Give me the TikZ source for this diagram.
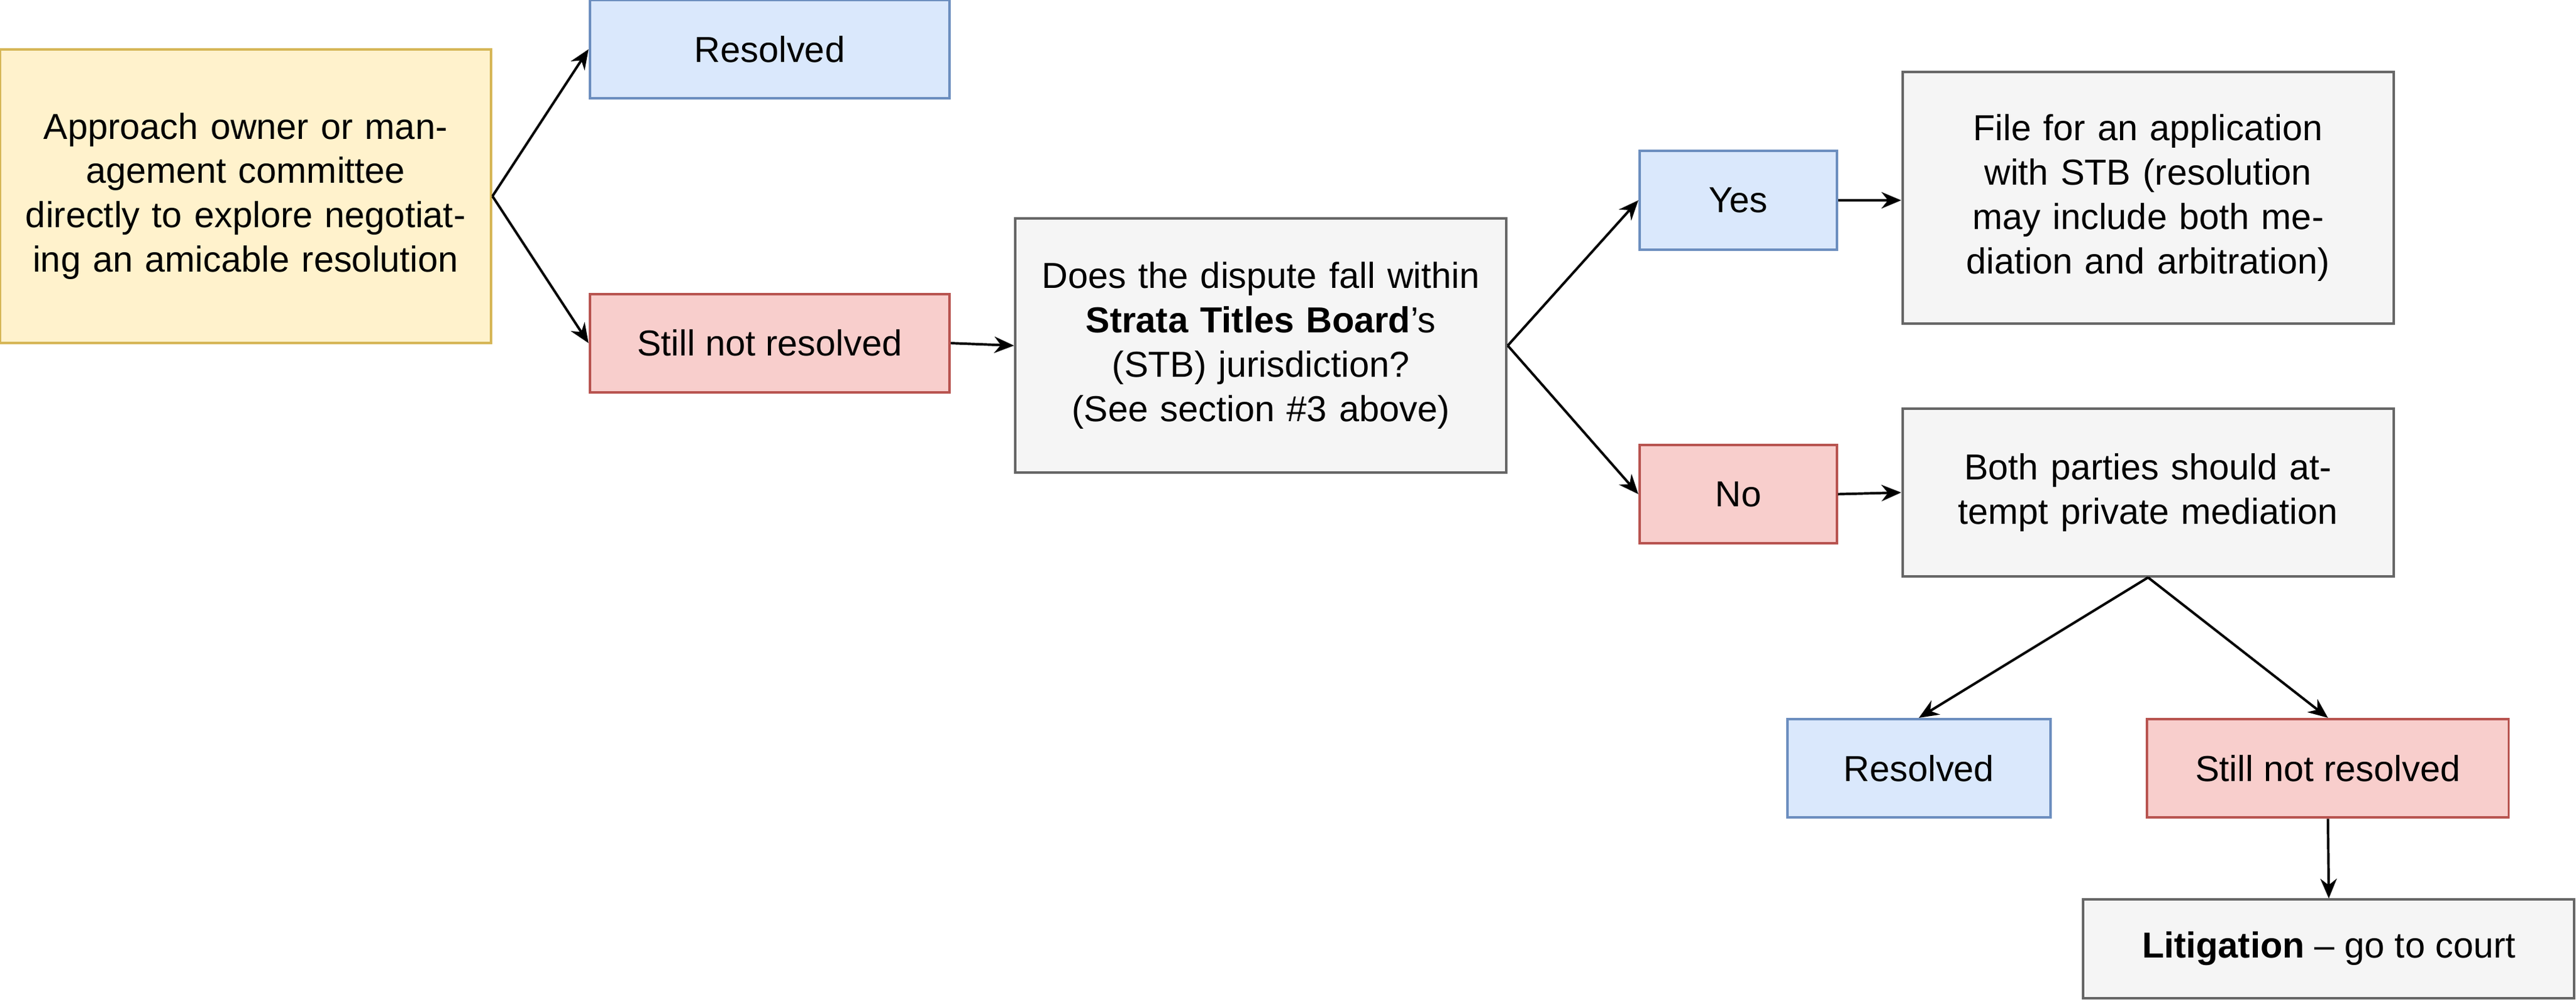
\documentclass[tikz,border=0pt]{standalone}
\usepackage{fontspec}
\setmainfont{Liberation Sans}
\usetikzlibrary{arrows.meta}
\definecolor{yfill}{HTML}{FFF2CC}\definecolor{ydraw}{HTML}{D6B656}
\definecolor{bfill}{HTML}{DAE8FC}\definecolor{bdraw}{HTML}{6C8EBF}
\definecolor{rfill}{HTML}{F8CECC}\definecolor{rdraw}{HTML}{B85450}
\definecolor{gfill}{HTML}{F5F5F5}\definecolor{gdraw}{HTML}{666666}
\tikzset{
	box/.style={draw, line width=0.75pt, align=center, inner sep=2pt, font=\fontsize{11}{13.5}\selectfont},
	yel/.style={box, fill=yfill, draw=ydraw},
	blu/.style={box, fill=bfill, draw=bdraw},
	red/.style={box, fill=rfill, draw=rdraw},
	gry/.style={box, fill=gfill, draw=gdraw},
	arr/.style={-{Stealth[length=6pt,width=5pt]}, line width=0.75pt}
}
\begin{document}
\begin{tikzpicture}[x=0.5pt,y=-0.5pt]
	\useasboundingbox (0,0) rectangle (1568,610);
	\node[yel, minimum width=149.5pt, minimum height=89.5pt, text width=135pt] (approach) at (149.5,119.5) {Approach owner or management committee directly to explore negotiating an amicable resolution};
	\node[blu, minimum width=109.5pt, minimum height=30pt] (res1) at (468.5,30) {Resolved};
	\node[red, minimum width=109.5pt, minimum height=30pt] (still1) at (468.5,209) {Still not resolved};
	\node[gry, minimum width=149.5pt, minimum height=77.5pt, text width=140pt] (stb) at (767.5,210.5) {Does the dispute fall within \textbf{Strata Titles Board}'s (STB) jurisdiction? (See section \#3 above)};
	\node[blu, minimum width=60pt, minimum height=30pt] (yes) at (1058,122) {Yes};
	\node[red, minimum width=60pt, minimum height=30pt] (no) at (1058,301) {No};
	\node[gry, minimum width=149.5pt, minimum height=76.5pt, text width=142pt] (file) at (1307.5,120.5) {File for an application with STB (resolution may include both mediation and arbitration)};
	\node[gry, minimum width=149.5pt, minimum height=51pt, text width=145pt] (med) at (1307.5,300) {Both parties should attempt private mediation};
	\node[blu, minimum width=80pt, minimum height=30pt] (res2) at (1168,468) {Resolved};
	\node[red, minimum width=110pt, minimum height=30pt] (still2) at (1417,468) {Still not resolved};
	\node[gry, minimum width=149.5pt, minimum height=30pt] (court) at (1417.5,578) {\textbf{Litigation} -- go to court};
	%
	\draw[arr] (approach.east) -- (res1.west);
	\draw[arr] (approach.east) -- (still1.west);
	\draw[arr] (still1.east) -- (stb.west);
	\draw[arr] (stb.east) -- (yes.west);
	\draw[arr] (stb.east) -- (no.west);
	\draw[arr] (yes.east) -- (file.west |- yes.east);
	\draw[arr] (no.east) -- (med.west);
	\draw[arr] (med.south) -- (res2.north);
	\draw[arr] (med.south) -- (still2.north);
	\draw[arr] (still2.south) -- (court.north);
\end{tikzpicture}
\end{document}
